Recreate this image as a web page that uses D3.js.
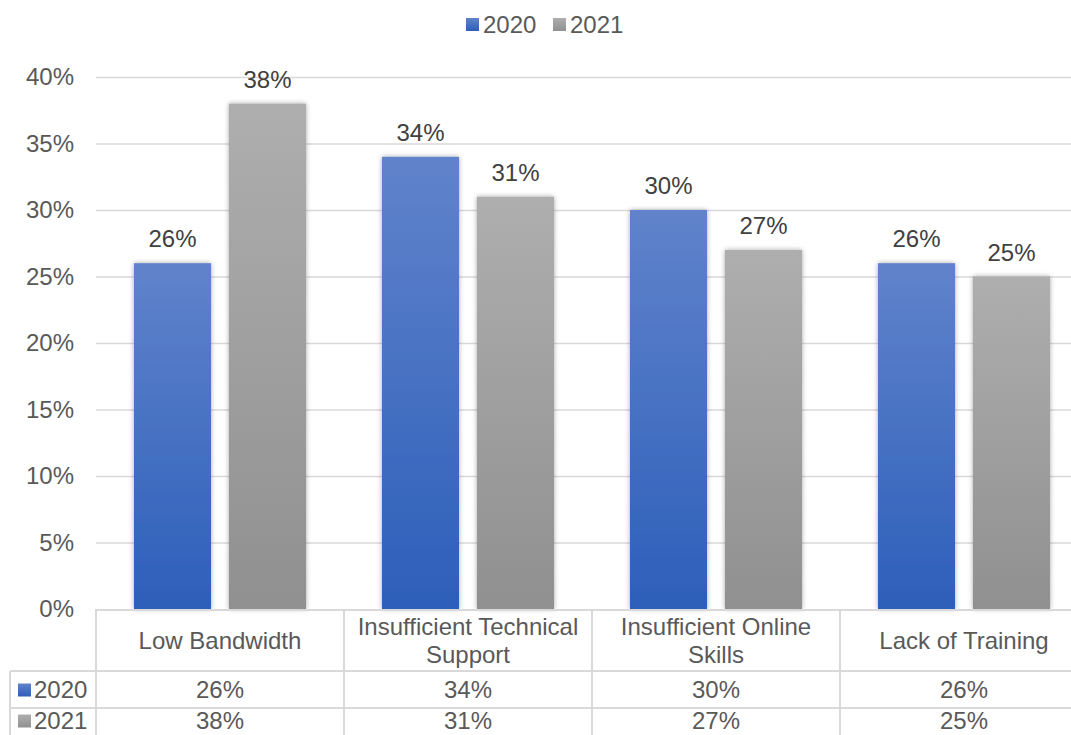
<!DOCTYPE html>
<html>
<head>
<meta charset="utf-8">
<script src="https://cdn.jsdelivr.net/npm/d3@7"></script>
<style>
  html, body { margin: 0; padding: 0; background: #fff; }
  svg { display: block; font-family: "Liberation Sans", Arial, sans-serif; }
</style>
</head>
<body>
<svg id="chart" width="1071" height="735"></svg>
<script>
// Reported technology challenges, share of respondents by year
const categories = [["Low Bandwidth"], ["Insufficient Technical", "Support"], ["Insufficient Online", "Skills"], ["Lack of Training"]];
const seriesNames = ["2020", "2021"];
const values2020 = [0.26, 0.34, 0.30, 0.26];
const values2021 = [0.38, 0.31, 0.27, 0.25];
const yTicks = [0, 0.05, 0.10, 0.15, 0.20, 0.25, 0.30, 0.35, 0.40];

const series = [values2020, values2021];
const svg = d3.select("#chart");
const W = 1071;
const plotLeft = 96, plotRight = 1088, plotTop = 77, plotBottom = 609;
const grid = "#d9d9d9";
const tickColor = "#595959";
const labelColor = "#404040";
const fontSize = 24;

const defs = svg.append("defs");
const grads = [
  { id: "g2020", top: "#6083cb", bottom: "#2d5fba" },
  { id: "g2021", top: "#aeaeae", bottom: "#909090" }
];
grads.forEach(g => {
  const lg = defs.append("linearGradient").attr("id", g.id)
    .attr("x1", 0).attr("y1", 0).attr("x2", 0).attr("y2", 1);
  lg.append("stop").attr("offset", "0%").attr("stop-color", g.top);
  lg.append("stop").attr("offset", "100%").attr("stop-color", g.bottom);
});
const shadow = defs.append("filter").attr("id", "barShadow")
  .attr("x", "-20%").attr("y", "-10%").attr("width", "140%").attr("height", "120%");
shadow.append("feDropShadow").attr("dx", 0).attr("dy", 0).attr("stdDeviation", 2.5)
  .attr("flood-color", "#000").attr("flood-opacity", 0.35);

const x0 = d3.scaleBand().domain(d3.range(categories.length)).range([plotLeft, plotRight]).paddingInner(0).paddingOuter(0);
const x1 = d3.scaleBand().domain(d3.range(series.length)).range([38, x0.bandwidth() - 38]).paddingInner(18 / 95);
const y = d3.scaleLinear().domain([0, 0.40]).range([plotBottom, plotTop]);
const pct = d3.format(".0%");

// gridlines
svg.append("g").selectAll("line").data(yTicks.slice(1)).join("line")
  .attr("x1", plotLeft).attr("x2", W)
  .attr("y1", d => y(d) + 0.5).attr("y2", d => y(d) + 0.5)
  .attr("stroke", grid).attr("stroke-width", 1.5);

// y axis labels
const yAxis = d3.axisLeft(y).tickValues(yTicks).tickFormat(pct).tickSize(0).tickPadding(0);
const yg = svg.append("g").attr("transform", `translate(74,0)`).call(yAxis);
yg.select(".domain").remove();
yg.selectAll("text").attr("font-size", fontSize).attr("fill", tickColor)
  .attr("font-family", "Liberation Sans, Arial, sans-serif");

// bars
const groups = svg.append("g").selectAll("g").data(categories).join("g")
  .attr("transform", (d, i) => `translate(${x0(i)},0)`);
groups.each(function(cat, ci) {
  const g = d3.select(this);
  series.forEach((vals, si) => {
    g.append("rect")
      .attr("x", x1(si)).attr("width", x1.bandwidth())
      .attr("y", y(vals[ci])).attr("height", y(0) - y(vals[ci]))
      .attr("fill", `url(#${grads[si].id})`)
      .attr("filter", "url(#barShadow)");
    g.append("text")
      .attr("x", x1(si) + x1.bandwidth() / 2)
      .attr("y", y(vals[ci]) - 16)
      .attr("text-anchor", "middle")
      .attr("font-size", fontSize).attr("fill", labelColor)
      .text(pct(vals[ci]));
  });
});

// data table beneath the axis
const tbl = svg.append("g");
const rowTop = plotBottom, headerBottom = 671, row1Bottom = 708;
const tableLeft = 10;
const line = (x1v, y1v, x2v, y2v) => tbl.append("line")
  .attr("x1", x1v).attr("y1", y1v).attr("x2", x2v).attr("y2", y2v)
  .attr("stroke", grid).attr("stroke-width", 2);
line(plotLeft, rowTop + 1, W, rowTop + 1);
line(tableLeft, headerBottom, W, headerBottom);
line(tableLeft, row1Bottom, W, row1Bottom);
line(tableLeft, headerBottom, tableLeft, 735);
d3.range(categories.length + 1).forEach(i => {
  const xv = i < categories.length ? x0(i) : plotRight;
  line(xv, rowTop, xv, 735);
});

// category headers
categories.forEach((lines, i) => {
  const cx = x0(i) + x0.bandwidth() / 2;
  const t = tbl.append("text").attr("text-anchor", "middle")
    .attr("font-size", fontSize).attr("fill", tickColor);
  const cy = (rowTop + headerBottom) / 2 + 1;
  const lh = 28;
  lines.forEach((s, k) => {
    t.append("tspan").attr("x", cx)
      .attr("y", cy + (k - (lines.length - 1) / 2) * lh)
      .attr("dy", "0.35em").text(s);
  });
});

// series rows
const rowCenters = [690, 721];
series.forEach((vals, si) => {
  const cy = rowCenters[si];
  tbl.append("rect").attr("x", 18).attr("y", cy - 6.5).attr("width", 13).attr("height", 13)
    .attr("fill", `url(#${grads[si].id})`);
  tbl.append("text").attr("x", 34).attr("y", cy).attr("dy", "0.35em")
    .attr("font-size", fontSize).attr("fill", tickColor).text(seriesNames[si]);
  vals.forEach((v, ci) => {
    tbl.append("text").attr("x", x0(ci) + x0.bandwidth() / 2).attr("y", cy).attr("dy", "0.35em")
      .attr("text-anchor", "middle").attr("font-size", fontSize).attr("fill", tickColor)
      .text(pct(v));
  });
});

// legend
const legend = svg.append("g");
const legendItems = [{ x: 466 }, { x: 553 }];
seriesNames.forEach((name, si) => {
  const lx = legendItems[si].x;
  legend.append("rect").attr("x", lx).attr("y", 18).attr("width", 13).attr("height", 13)
    .attr("fill", `url(#${grads[si].id})`);
  legend.append("text").attr("x", lx + 17).attr("y", 25).attr("dy", "0.35em")
    .attr("font-size", fontSize).attr("fill", tickColor).text(name);
});
</script>
</body>
</html>
